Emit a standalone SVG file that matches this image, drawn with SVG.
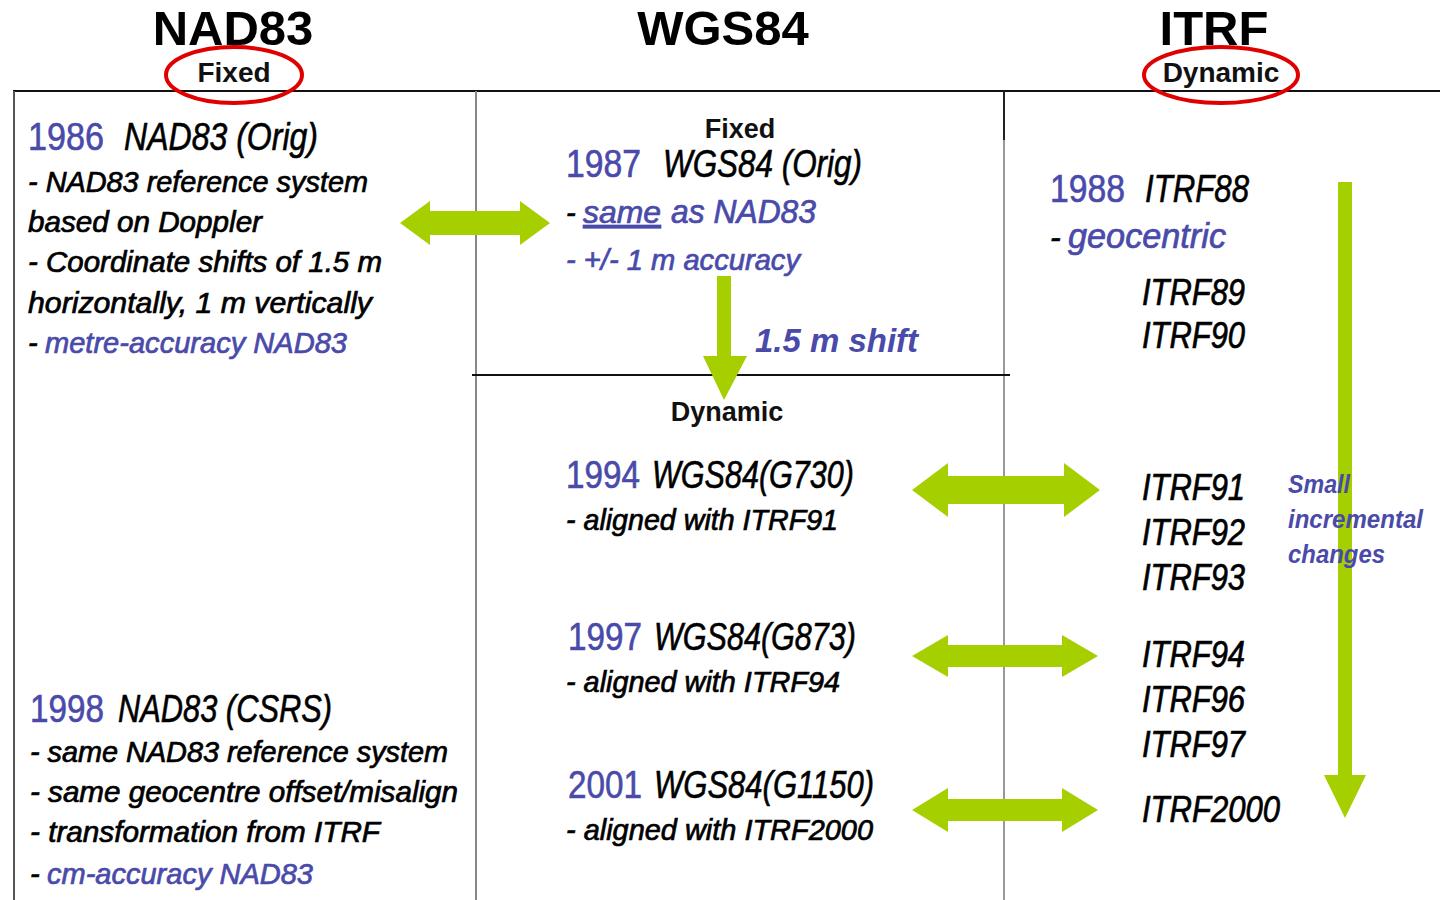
<svg xmlns="http://www.w3.org/2000/svg" width="1440" height="900" viewBox="0 0 1440 900">
<style>
.h{font-family:"Liberation Sans",Arial,sans-serif;font-weight:bold;fill:#000}
.sub{font-family:"Liberation Sans",Arial,sans-serif;font-weight:bold;font-size:28px;fill:#111}
.yr{font-family:"Liberation Sans",Arial,sans-serif;font-size:38px;fill:#4a4aaa;stroke:#4a4aaa;stroke-width:0.6}
.ti{font-family:"Liberation Sans",Arial,sans-serif;font-style:italic;font-size:38px;fill:#000;stroke:#000;stroke-width:0.6}
.b{font-family:"Liberation Sans",Arial,sans-serif;font-style:italic;font-size:29px;fill:#000;stroke:#000;stroke-width:0.7}
.it{font-family:"Liberation Sans",Arial,sans-serif;font-style:italic;font-size:36px;fill:#000;stroke:#000;stroke-width:0.7}
.b.blue{fill:#4a4aaa;stroke:#4a4aaa}
.sm{font-family:"Liberation Sans",Arial,sans-serif;font-style:italic;font-weight:bold;font-size:25px;fill:#4a4aaa}
.arr{fill:#a6cf00}
.ring{fill:none;stroke:#e00000;stroke-width:4}
</style>
<rect width="1440" height="900" fill="#fff"/>
<g id="frame">
<line x1="13" y1="91" x2="1440" y2="91" stroke="#111" stroke-width="2"/>
<line x1="14" y1="91" x2="14" y2="900" stroke="#555" stroke-width="2"/>
<line x1="476" y1="91" x2="476" y2="900" stroke="#888" stroke-width="2"/>
<line x1="1004" y1="91" x2="1004" y2="140" stroke="#222" stroke-width="2"/>
<line x1="1004" y1="140" x2="1004" y2="900" stroke="#999" stroke-width="2"/>
<line x1="472" y1="375" x2="1010" y2="375" stroke="#111" stroke-width="2"/>
</g>
<g id="connectors">
<polygon class="arr" points="400,223 430,201 430,211 520,211 520,201 550,223 520,245 520,235 430,235 430,245"/>
<polygon class="arr" points="717,276 731,276 731,356 747,356 724,400 703,356 717,356"/>
<polygon class="arr" points="912,490 948,463 948,476 1064,476 1064,463 1100,490 1064,517 1064,504 948,504 948,517"/>
<polygon class="arr" points="912,656 948,635 948,645 1062,645 1062,635 1098,656 1062,677 1062,667 948,667 948,677"/>
<polygon class="arr" points="912,810 948,788 948,799 1062,799 1062,788 1098,810 1062,832 1062,821 948,821 948,832"/>
<polygon class="arr" points="1338,182 1352,182 1352,775 1366,775 1345,818 1324,775 1338,775"/>
</g>
<g id="header-nad83">
<text class="h" x="233" y="45" font-size="49" text-anchor="middle">NAD83</text>
<text class="sub" x="234" y="82" text-anchor="middle">Fixed</text>
<ellipse class="ring" cx="234" cy="75" rx="68" ry="28"/>
</g>
<g id="header-wgs84">
<text class="h" x="723" y="45" font-size="49" text-anchor="middle">WGS84</text>
</g>
<g id="header-itrf">
<text class="h" x="1214" y="45" font-size="49" text-anchor="middle">ITRF</text>
<text class="sub" x="1221" y="82" text-anchor="middle">Dynamic</text>
<ellipse class="ring" cx="1221" cy="75" rx="77" ry="28"/>
</g>
<g id="nad83-orig">
<text class="yr" x="28" y="150" textLength="76" lengthAdjust="spacingAndGlyphs">1986</text>
<text class="ti" x="124" y="150" textLength="194" lengthAdjust="spacingAndGlyphs">NAD83 (Orig)</text>
<text class="b" x="28" y="192" textLength="340" lengthAdjust="spacingAndGlyphs">- NAD83 reference system</text>
<text class="b" x="28" y="232" textLength="234" lengthAdjust="spacingAndGlyphs">based on Doppler</text>
<text class="b" x="28" y="272" textLength="354" lengthAdjust="spacingAndGlyphs">- Coordinate shifts of 1.5 m</text>
<text class="b" x="28" y="313" textLength="344" lengthAdjust="spacingAndGlyphs">horizontally, 1 m vertically</text>
<text class="b" x="28" y="353">- </text>
<text class="b blue" x="45" y="353" textLength="302" lengthAdjust="spacingAndGlyphs">metre-accuracy NAD83</text>
</g>
<g id="nad83-csrs">
<text class="yr" x="30" y="722" textLength="74" lengthAdjust="spacingAndGlyphs">1998</text>
<text class="ti" x="118" y="722" textLength="214" lengthAdjust="spacingAndGlyphs">NAD83 (CSRS)</text>
<text class="b" x="30" y="762" textLength="418" lengthAdjust="spacingAndGlyphs">- same NAD83 reference system</text>
<text class="b" x="30" y="802" textLength="428" lengthAdjust="spacingAndGlyphs">- same geocentre offset/misalign</text>
<text class="b" x="30" y="842" textLength="350" lengthAdjust="spacingAndGlyphs">- transformation from ITRF</text>
<text class="b" x="30" y="884">- </text>
<text class="b blue" x="47" y="884" textLength="266" lengthAdjust="spacingAndGlyphs">cm-accuracy NAD83</text>
</g>
<g id="wgs84-orig">
<text class="sub" x="740" y="138" style="font-size:27px" text-anchor="middle">Fixed</text>
<text class="yr" x="566" y="177" textLength="75" lengthAdjust="spacingAndGlyphs">1987</text>
<text class="ti" x="663" y="177" textLength="199" lengthAdjust="spacingAndGlyphs">WGS84 (Orig)</text>
<text class="b" x="566" y="223">-</text>
<text class="b blue" x="583" y="223" style="font-size:32px" text-decoration="underline" textLength="78" lengthAdjust="spacingAndGlyphs">same</text>
<text class="b blue" x="671" y="223" style="font-size:33px" textLength="145" lengthAdjust="spacingAndGlyphs">as NAD83</text>
<text class="b blue" x="566" y="270" textLength="234" lengthAdjust="spacingAndGlyphs">- +/- 1 m accuracy</text>
<text class="sm" x="755" y="352" style="font-size:33px" textLength="163" lengthAdjust="spacingAndGlyphs">1.5 m shift</text>
</g>
<g id="wgs84-dynamic">
<text class="sub" x="727" y="421" style="font-size:27px" text-anchor="middle">Dynamic</text>
</g>
<g id="wgs84-g730">
<text class="yr" x="566" y="488" textLength="74" lengthAdjust="spacingAndGlyphs">1994</text>
<text class="ti" x="652" y="488" textLength="202" lengthAdjust="spacingAndGlyphs">WGS84(G730)</text>
<text class="b" x="566" y="530" textLength="272" lengthAdjust="spacingAndGlyphs">- aligned with ITRF91</text>
</g>
<g id="wgs84-g873">
<text class="yr" x="568" y="650" textLength="74" lengthAdjust="spacingAndGlyphs">1997</text>
<text class="ti" x="654" y="650" textLength="202" lengthAdjust="spacingAndGlyphs">WGS84(G873)</text>
<text class="b" x="566" y="692" textLength="274" lengthAdjust="spacingAndGlyphs">- aligned with ITRF94</text>
</g>
<g id="wgs84-g1150">
<text class="yr" x="568" y="798" textLength="74" lengthAdjust="spacingAndGlyphs">2001</text>
<text class="ti" x="654" y="798" textLength="220" lengthAdjust="spacingAndGlyphs">WGS84(G1150)</text>
<text class="b" x="566" y="840" textLength="307" lengthAdjust="spacingAndGlyphs">- aligned with ITRF2000</text>
</g>
<g id="itrf88">
<text class="yr" x="1050" y="202" textLength="75" lengthAdjust="spacingAndGlyphs">1988</text>
<text class="ti" x="1145" y="202" textLength="104" lengthAdjust="spacingAndGlyphs">ITRF88</text>
<text class="b" x="1050" y="248" style="font-size:32px">-</text>
<text class="b blue" x="1068" y="248" style="font-size:35px" textLength="158" lengthAdjust="spacingAndGlyphs">geocentric</text>
</g>
<g id="itrf-list">
<text class="it" x="1142" y="305" textLength="103" lengthAdjust="spacingAndGlyphs">ITRF89</text>
<text class="it" x="1142" y="348" textLength="103" lengthAdjust="spacingAndGlyphs">ITRF90</text>
<text class="it" x="1142" y="500" textLength="103" lengthAdjust="spacingAndGlyphs">ITRF91</text>
<text class="it" x="1142" y="545" textLength="103" lengthAdjust="spacingAndGlyphs">ITRF92</text>
<text class="it" x="1142" y="590" textLength="103" lengthAdjust="spacingAndGlyphs">ITRF93</text>
<text class="it" x="1142" y="667" textLength="103" lengthAdjust="spacingAndGlyphs">ITRF94</text>
<text class="it" x="1142" y="712" textLength="103" lengthAdjust="spacingAndGlyphs">ITRF96</text>
<text class="it" x="1142" y="757" textLength="103" lengthAdjust="spacingAndGlyphs">ITRF97</text>
<text class="it" x="1142" y="822" textLength="138" lengthAdjust="spacingAndGlyphs">ITRF2000</text>
</g>
<g id="small-changes">
<text class="sm" x="1288" y="493" textLength="62" lengthAdjust="spacingAndGlyphs">Small</text>
<text class="sm" x="1288" y="528" textLength="135" lengthAdjust="spacingAndGlyphs">incremental</text>
<text class="sm" x="1288" y="563" textLength="97" lengthAdjust="spacingAndGlyphs">changes</text>
</g>
</svg>
